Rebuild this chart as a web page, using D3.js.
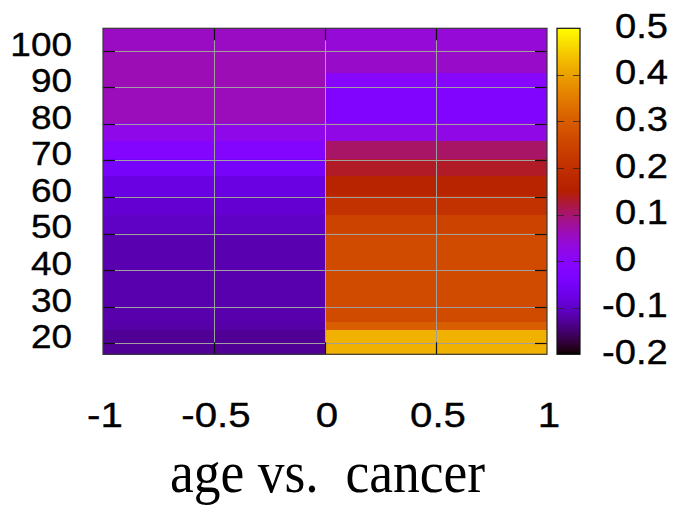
<!DOCTYPE html>
<html>
<head>
<meta charset="utf-8">
<script src="https://cdn.jsdelivr.net/npm/d3@7"></script>
<style>
  html, body { margin: 0; padding: 0; background: #fff; }
  svg { display: block; }
  text { font-family: "Liberation Sans", Arial, sans-serif; fill: #000; }
  .lbl { stroke: #000; stroke-width: 0.35px; }
</style>
</head>
<body>
<svg id="chart" width="674" height="507"></svg>
<script>
// ---- data ----
const xEdges = [-1, 0, 1];                     // two columns
const ageEdges = [17, 23.6, 25.8, 30, 40, 50.2, 55.1, 60.3, 65.7, 70.4, 75.3, 80.3, 90.4, 94, 100.2, 106.1];
const leftValues  = [-0.131, -0.12, -0.118, -0.117, -0.115, -0.101, -0.092, -0.079, -0.045, -0.012, 0.02, 0.058, 0.062, 0.062, 0.052];
const rightValues = [0.420, 0.302, 0.266, 0.266, 0.266, 0.248, 0.205, 0.165, 0.133, 0.104, 0.025, -0.022, -0.005, 0.049, 0.039];
const xTicks = [-1, -0.5, 0, 0.5, 1];
const xTickLabels = ["-1", "-0.5", "0", "0.5", "1"];
const yTicks = [20, 30, 40, 50, 60, 70, 80, 90, 100];
const cbTicks = [-0.2, -0.1, 0, 0.1, 0.2, 0.3, 0.4, 0.5];
const cbTickLabels = ["-0.2", "-0.1", "0", "0.1", "0.2", "0.3", "0.4", "0.5"];
const xLabel = "age vs.  cancer";

// ---- layout ----
const svg = d3.select("#chart");
const x = d3.scaleLinear().domain([-1, 1]).range([103, 547]);
const y = d3.scaleLinear().domain([17, 106.1]).range([354.3, 28.3]);
const cb = d3.scaleLinear().domain([-0.2, 0.5]).range([354.3, 28.3]);

// gnuplot default palette (rgbformulae 7,5,15)
function palette(v) {
  const t = Math.max(0, Math.min(1, (v + 0.2) / 0.7));
  const r = Math.sqrt(t), g = t * t * t, b = Math.max(0, Math.sin(2 * Math.PI * t));
  return d3.rgb(Math.round(r * 255), Math.round(g * 255), Math.round(b * 255)).formatHex();
}

// ---- cells ----
const cells = [];
ageEdges.slice(0, -1).forEach((a0, i) => {
  const a1 = ageEdges[i + 1];
  cells.push({x0: xEdges[0], x1: xEdges[1], a0, a1, v: leftValues[i]});
  cells.push({x0: xEdges[1], x1: xEdges[2], a0, a1, v: rightValues[i]});
});
svg.append("g").selectAll("rect").data(cells).join("rect")
  .attr("x", d => x(d.x0))
  .attr("y", d => y(d.a1))
  .attr("width", d => x(d.x1) - x(d.x0))
  .attr("height", d => y(d.a0) - y(d.a1) + 0.3)
  .attr("fill", d => palette(d.v))
  .attr("shape-rendering", "crispEdges");

// ---- grid ----
const grid = svg.append("g").attr("stroke", "#a0a0a0").attr("stroke-width", 1);
grid.selectAll("line.h").data(yTicks).join("line").attr("class", "h")
  .attr("x1", x(-1)).attr("x2", x(1))
  .attr("y1", d => Math.round(y(d)) + 0.5).attr("y2", d => Math.round(y(d)) + 0.5);
grid.selectAll("line.v").data(xTicks.slice(1, -1)).join("line").attr("class", "v")
  .attr("y1", y(106.1)).attr("y2", y(17))
  .attr("x1", d => Math.round(x(d)) + 0.5).attr("x2", d => Math.round(x(d)) + 0.5);

// ---- ticks (inward, both sides) ----
const tk = svg.append("g").attr("stroke", "#111").attr("stroke-width", 1.2);
const tl = 12;
yTicks.forEach(t => {
  const yy = Math.round(y(t)) + 0.5;
  tk.append("line").attr("x1", x(-1)).attr("x2", x(-1) + tl).attr("y1", yy).attr("y2", yy);
  tk.append("line").attr("x1", x(1)).attr("x2", x(1) - tl).attr("y1", yy).attr("y2", yy);
});
xTicks.slice(1, -1).forEach(t => {
  const xx = Math.round(x(t)) + 0.5;
  tk.append("line").attr("y1", y(106.1)).attr("y2", y(106.1) + tl).attr("x1", xx).attr("x2", xx);
  tk.append("line").attr("y1", y(17)).attr("y2", y(17) - tl).attr("x1", xx).attr("x2", xx);
});

// ---- border ----
svg.append("rect")
  .attr("x", x(-1)).attr("y", y(106.1))
  .attr("width", x(1) - x(-1)).attr("height", y(17) - y(106.1))
  .attr("fill", "none").attr("stroke", "#3a3a3a").attr("stroke-width", 1.2);

// ---- y tick labels ----
svg.append("g").selectAll("text").data(yTicks).join("text")
  .attr("class", "lbl")
  .attr("transform", d => `translate(72,${y(d) - 7}) scale(1.12,1)`)
  .attr("dy", "0.36em")
  .attr("text-anchor", "end").attr("font-size", 33)
  .text(d => d);

// ---- x tick labels ----
svg.append("g").selectAll("text").data(xTicks).join("text")
  .attr("class", "lbl")
  .attr("transform", d => `translate(${x(d) + 2},427) scale(1.15,1)`)
  .attr("text-anchor", "middle").attr("font-size", 35)
  .text((d, i) => xTickLabels[i]);

// ---- x axis title ----
svg.append("text")
  .attr("x", 170).attr("y", 492)
  .attr("text-anchor", "start")
  .attr("font-size", 59)
  .attr("textLength", 315)
  .attr("lengthAdjust", "spacingAndGlyphs")
  .style("font-family", "'Liberation Serif', 'Times New Roman', serif")
  .style("white-space", "pre")
  .text(xLabel);

// ---- colorbar ----
const cbX = 557, cbW = 23;
const defs = svg.append("defs");
const grad = defs.append("linearGradient").attr("id", "cbgrad")
  .attr("x1", 0).attr("y1", 1).attr("x2", 0).attr("y2", 0);
d3.range(0, 101).forEach(i => {
  const v = -0.2 + 0.7 * i / 100;
  grad.append("stop").attr("offset", (i) + "%").attr("stop-color", palette(v));
});
svg.append("rect")
  .attr("x", cbX).attr("y", cb(0.5)).attr("width", cbW).attr("height", cb(-0.2) - cb(0.5))
  .attr("fill", "url(#cbgrad)");
const cbt = svg.append("g").attr("stroke", "#222").attr("stroke-opacity", 0.75).attr("stroke-width", 1);
cbTicks.slice(1, -1).forEach(t => {
  const yy = Math.round(cb(t)) + 0.5;
  cbt.append("line").attr("x1", cbX).attr("x2", cbX + 7).attr("y1", yy).attr("y2", yy);
  cbt.append("line").attr("x1", cbX + cbW).attr("x2", cbX + cbW - 7).attr("y1", yy).attr("y2", yy);
});
svg.append("rect")
  .attr("x", cbX).attr("y", cb(0.5)).attr("width", cbW).attr("height", cb(-0.2) - cb(0.5))
  .attr("fill", "none").attr("stroke", "#111").attr("stroke-width", 1.2);

svg.append("g").selectAll("text").data(cbTicks).join("text")
  .attr("class", "lbl")
  .attr("transform", d => `translate(${d < 0 ? 602 : 615},${cb(d) - 3}) scale(1.09,1)`)
  .attr("dy", "0.36em")
  .attr("text-anchor", "start").attr("font-size", 35)
  .text((d, i) => cbTickLabels[i]);
</script>
</body>
</html>
